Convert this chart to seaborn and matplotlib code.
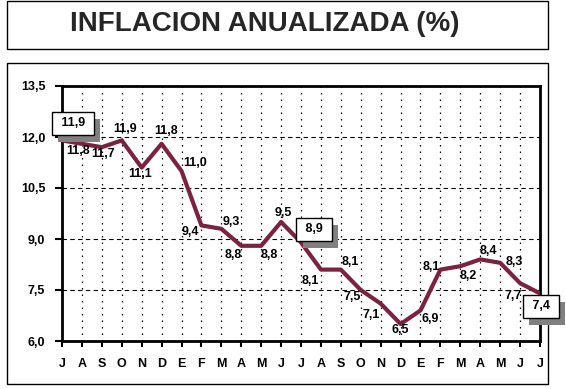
import matplotlib
matplotlib.use("Agg")
import matplotlib.pyplot as plt
import matplotlib.patheffects as pe
from matplotlib.patches import Rectangle
import pandas as pd
import seaborn as sns

# ---------------------------------------------------------------------------
# Data (Jul .. Jul, two years)
# ---------------------------------------------------------------------------
MONTHS = ["J", "A", "S", "O", "N", "D", "E", "F", "M", "A", "M", "J",
          "J", "A", "S", "O", "N", "D", "E", "F", "M", "A", "M", "J", "J"]
INFLATION = [11.9, 11.8, 11.7, 11.9, 11.1, 11.8, 11.0, 9.4, 9.3, 8.8, 8.8, 9.5,
             8.9, 8.1, 8.1, 7.5, 7.1, 6.5, 6.9, 8.1, 8.2, 8.4, 8.3, 7.7, 7.4]
Y_TICKS = [6.0, 7.5, 9.0, 10.5, 12.0, 13.5]
Y_TICK_LABELS = ["6,0", "7,5", "9,0", "10,5", "12,0", "13,5"]
BOXED = [0, 12, 24]   # points whose label sits in a shadowed box

# label offsets in pixels (dx, dy) from each point, label centre
LABEL_OFFSETS = [(11, 17), (-4, -7), (1, -7), (3, 11), (-2, -6), (4, 13),
                 (14, 8), (-11, -7), (10, 7), (-8, -9), (8, -9), (2, 9),
                 (13, 13), (-11, -11), (9, 8), (-9, -7), (-9, -11), (0, -6),
                 (10, -9), (-9, 3), (8, -10), (8, 8), (14, 1), (-7, -13),
                 (1, -13)]

LINE_COLOR = "#7b2242"

df = pd.DataFrame({"idx": range(len(INFLATION)), "value": INFLATION})

sns.set_style("white")
plt.rcParams["font.family"] = ["Liberation Sans", "DejaVu Sans"]
plt.rcParams["font.weight"] = "bold"

fig = plt.figure(figsize=(5.66, 3.89), dpi=100)
ax = fig.add_axes([62 / 566, 1 - 341 / 389, 478 / 566, 255 / 389])

sns.lineplot(data=df, x="idx", y="value", ax=ax, color=LINE_COLOR,
             linewidth=3.0, zorder=3)

ax.set_xlim(0, len(INFLATION) - 1)
ax.set_ylim(6.0, 13.5)
ax.set_xticks(df["idx"])
ax.set_xticklabels(MONTHS, fontsize=9, fontweight="bold")
ax.set_yticks(Y_TICKS)
ax.set_yticklabels(Y_TICK_LABELS, fontsize=9, fontweight="bold")
ax.set_xlabel("")
ax.set_ylabel("")

ax.tick_params(axis="x", direction="out", length=4, width=1.5, pad=8,
               bottom=True, colors="black")
ax.tick_params(axis="y", direction="out", length=5, width=1.5, pad=7,
               left=True, colors="black")

ax.xaxis.grid(True, linestyle=(0, (1.2, 4)), color="black", linewidth=0.9)
ax.yaxis.grid(True, linestyle=(0, (4, 3)), color="black", linewidth=0.8)
ax.set_axisbelow(True)

for side in ["left", "right", "top", "bottom"]:
    ax.spines[side].set_visible(True)
    ax.spines[side].set_color("black")
    ax.spines[side].set_linewidth(2.0)

# data labels
shadow = [pe.SimplePatchShadow(offset=(4.5, -5), shadow_rgbFace="#808080",
                               alpha=1.0), pe.Normal()]
for i, (v, (dx, dy)) in enumerate(zip(INFLATION, LABEL_OFFSETS)):
    txt = f"{v:.1f}".replace(".", ",")
    if i in BOXED:
        ann = ax.annotate(f" {txt} ", xy=(i, v), xytext=(dx, dy),
                          textcoords="offset pixels", ha="center",
                          va="center", fontsize=9, fontweight="bold",
                          color="black",
                          bbox=dict(boxstyle="square,pad=0.45", fc="white",
                                    ec="black", lw=1), zorder=6)
        ann.get_bbox_patch().set_path_effects(shadow)
    else:
        ax.annotate(txt, xy=(i, v), xytext=(dx, dy),
                    textcoords="offset pixels", ha="center", va="center",
                    fontsize=9, fontweight="bold", color="black", zorder=4)

# title box and plot frame
fig.add_artist(Rectangle((7 / 566, 1 - 49 / 389), 541 / 566, 48 / 389,
                         transform=fig.transFigure, fill=False,
                         ec="black", lw=1, zorder=-1))
fig.add_artist(Rectangle((7 / 566, 1 - 384 / 389), 541 / 566, 321 / 389,
                         transform=fig.transFigure, fill=False,
                         ec="black", lw=1, zorder=-1))
fig.text(265 / 566, 1 - 24 / 389, "INFLACION ANUALIZADA (%)",
         ha="center", va="center", fontsize=20, fontweight="bold")

fig.savefig("out.png", dpi=100)
